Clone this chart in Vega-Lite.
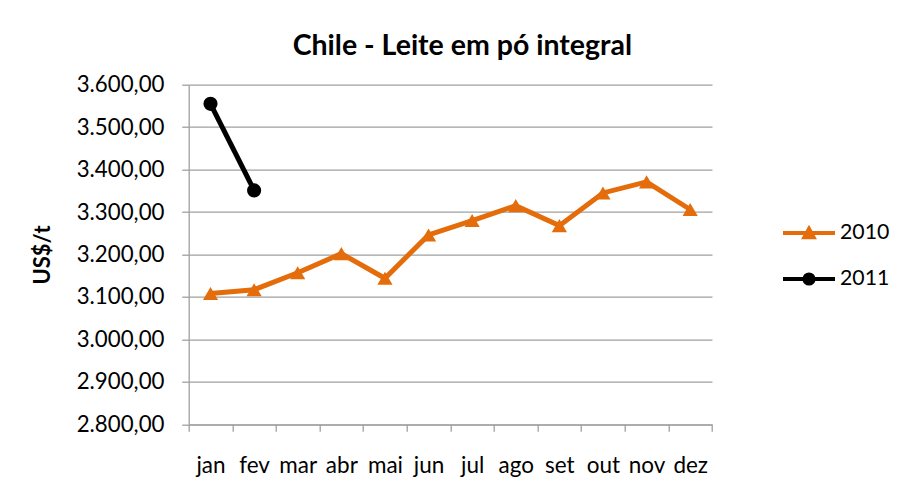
{
  "$schema": "https://vega.github.io/schema/vega-lite/v6.json",
  "width": 523.3,
  "height": 339.6,
  "autosize": {"type": "none"},
  "padding": {"left": 188.7, "top": 84.7, "right": 189, "bottom": 62},
  "background": "white",
  "config": {
    "locale": {"number": {"decimal": ",", "thousands": ".", "grouping": [3], "currency": ["US$", ""]}},
    "font": "Lato",
    "view": {"stroke": null}
  },
  "title": {
    "text": "Chile - Leite em pó integral",
    "font": "Lato",
    "fontSize": 28.5,
    "fontWeight": "bold",
    "color": "black",
    "anchor": "middle",
    "baseline": "alphabetic",
    "frame": "group",
    "offset": -10,
    "dx": 12
  },
  "data": {
    "values": [
      {"mes": "jan", "ano": "2010", "valor": 3108},
      {"mes": "fev", "ano": "2010", "valor": 3117},
      {"mes": "mar", "ano": "2010", "valor": 3157},
      {"mes": "abr", "ano": "2010", "valor": 3202},
      {"mes": "mai", "ano": "2010", "valor": 3144},
      {"mes": "jun", "ano": "2010", "valor": 3246},
      {"mes": "jul", "ano": "2010", "valor": 3280},
      {"mes": "ago", "ano": "2010", "valor": 3315},
      {"mes": "set", "ano": "2010", "valor": 3268},
      {"mes": "out", "ano": "2010", "valor": 3345},
      {"mes": "nov", "ano": "2010", "valor": 3371},
      {"mes": "dez", "ano": "2010", "valor": 3306},
      {"mes": "jan", "ano": "2011", "valor": 3555},
      {"mes": "fev", "ano": "2011", "valor": 3351}
    ]
  },
  "encoding": {
    "x": {
      "field": "mes",
      "type": "nominal",
      "sort": ["jan", "fev", "mar", "abr", "mai", "jun", "jul", "ago", "set", "out", "nov", "dez"],
      "scale": {"paddingInner": 0, "paddingOuter": 0},
      "axis": {
        "title": null,
        "labelAngle": 0,
        "labelFont": "Lato",
        "labelFontSize": 22.5,
        "labelColor": "black",
        "labelPadding": 23,
        "tickBand": "extent",
        "tickSize": 7,
        "tickColor": "#a0a0a0",
        "domainColor": "#a0a0a0",
        "domainWidth": 1.3,
        "tickWidth": 1.3,
        "grid": false
      }
    },
    "y": {
      "field": "valor",
      "type": "quantitative",
      "scale": {"domain": [2800, 3600], "nice": false, "zero": false},
      "axis": {
        "title": "US$/t",
        "titleFont": "Lato",
        "titleFontSize": 22,
        "titleFontWeight": "bold",
        "titleColor": "black",
        "titlePadding": 22,
        "values": [2800, 2900, 3000, 3100, 3200, 3300, 3400, 3500, 3600],
        "format": ",.2f",
        "labelFont": "Lato",
        "labelFontSize": 22.3,
        "labelColor": "black",
        "labelPadding": 17.7,
        "tickSize": 7,
        "tickColor": "#a0a0a0",
        "tickWidth": 1.3,
        "domainColor": "#a0a0a0",
        "domainWidth": 1.3,
        "grid": true,
        "gridColor": "#a0a0a0",
        "gridWidth": 1.3
      }
    },
    "color": {
      "field": "ano",
      "type": "nominal",
      "scale": {"domain": ["2010", "2011"], "range": ["#E46C0A", "#000000"]}
    }
  },
  "layer": [
    {
      "mark": {"type": "line", "strokeWidth": 5},
      "encoding": {
        "color": {
          "field": "ano",
          "type": "nominal",
          "scale": {"domain": ["2010", "2011"], "range": ["#E46C0A", "#000000"]},
          "legend": {
            "title": null,
            "orient": "none",
            "legendX": 605.3,
            "legendY": 133.3,
            "padding": 0,
            "rowPadding": 18,
            "symbolSize": 676,
            "symbolStrokeWidth": 4,
            "labelFont": "Lato",
            "labelFontSize": 21.3,
            "labelColor": "black",
            "labelOffset": 16,
            "encode": {
              "symbols": {
                "update": {
                  "shape": {"signal": "datum.value === '2010' ? 'M-2,0H2M-0.35,0.32L0,-0.32L0.35,0.32Z' : 'M-2,0H2M0.35,0A0.35,0.35,0,1,1,-0.35,0A0.35,0.35,0,1,1,0.35,0Z'"},
                  "fill": {"scale": "color", "field": "value"},
                  "stroke": {"scale": "color", "field": "value"},
                  "strokeWidth": {"value": 4},
                  "opacity": {"value": 1}
                }
              }
            }
          }
        }
      }
    },
    {
      "transform": [{"filter": "datum.ano === '2010'"}],
      "mark": {"type": "point", "shape": "triangle-up", "filled": true, "opacity": 1, "size": 230, "color": "#E46C0A"}
    },
    {
      "transform": [{"filter": "datum.ano === '2011'"}],
      "mark": {"type": "point", "shape": "circle", "filled": true, "opacity": 1, "size": 200, "color": "#000000"}
    }
  ]
}
